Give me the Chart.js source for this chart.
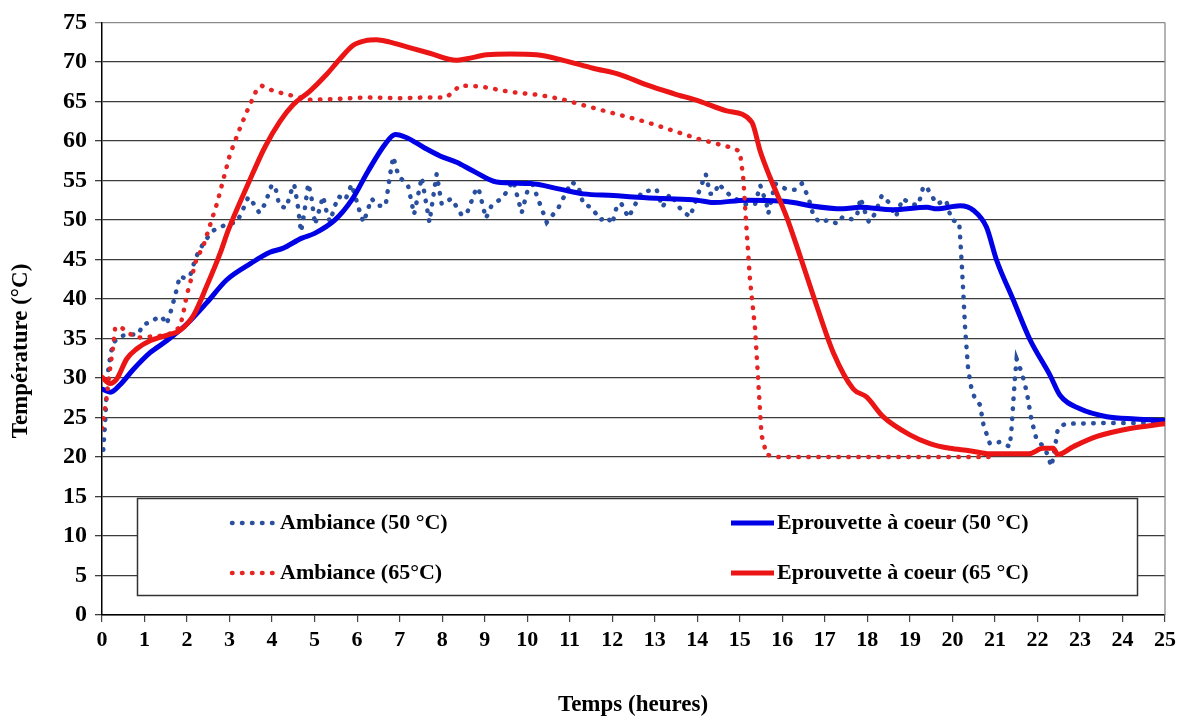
<!DOCTYPE html>
<html>
<head>
<meta charset="utf-8">
<script src="https://cdn.jsdelivr.net/npm/chart.js@4.4.1/dist/chart.umd.min.js"></script>
<style>
  html, body { margin: 0; padding: 0; background: #fff; }
</style>
</head>
<body>
<canvas id="grafico" width="1186" height="720"></canvas>
<script>
// Ambiance (50 °C) : relevés bruités
const heuresAmbiance50 = [0.03, 0.08, 0.12, 0.2, 0.27, 0.44, 0.66, 0.85, 0.97, 1.13, 1.29, 1.4, 1.52, 1.6, 1.72, 1.83, 1.95, 2.07, 2.15, 2.22,
  2.4, 2.6, 2.78, 2.97, 3.17, 3.29, 3.44, 3.56, 3.7, 3.83, 3.99, 4.07, 4.17, 4.33, 4.46, 4.52, 4.6, 4.68, 4.76, 4.85,
  4.92, 5.01, 5.09, 5.2, 5.3, 5.36, 5.48, 5.56, 5.72, 5.87, 6.07, 6.15, 6.34, 6.48, 6.67, 6.77, 6.85, 6.97, 7.2, 7.34,
  7.52, 7.7, 7.87, 7.99, 8.22, 8.46, 8.58, 8.81, 8.87, 9.03, 9.16, 9.44, 9.67, 9.87, 10.08, 10.46, 10.73, 11.04, 11.2, 11.32,
  11.51, 11.72, 11.88, 12.0, 12.12, 12.22, 12.38, 12.69, 13.04, 13.18, 13.36, 13.63, 13.83, 14.06, 14.2, 14.3, 14.42, 14.49, 14.77, 15.12,
  15.36, 15.48, 15.63, 15.67, 15.77, 15.83, 16.09, 16.3, 16.46, 16.61, 16.73, 16.87, 17.08, 17.3, 17.42, 17.63, 17.75, 17.84, 17.97, 18.04,
  18.18, 18.34, 18.49, 18.67, 18.83, 19.04, 19.2, 19.32, 19.4, 19.63, 19.85, 19.98, 20.16, 20.22, 20.3, 20.37, 20.45, 20.53, 20.65, 20.73,
  20.88, 21.12, 21.35, 21.39, 21.47, 21.51, 21.63, 21.75, 21.86, 21.98, 22.18, 22.33, 22.41, 22.48, 22.65, 23.5, 24.3, 25];
const tempAmbiance50 = [20.9, 24.9, 29.9, 33.0, 34.5, 35.3, 35.5, 35.5, 36.8, 37.0, 37.6, 37.8, 36.8, 38.1, 40.4, 42.9, 42.6, 42.9, 44.3, 45.4,
  47.2, 48.6, 49.1, 49.5, 49.7, 51.0, 52.9, 52.1, 50.9, 52.0, 54.4, 54.3, 51.8, 51.5, 53.8, 54.5, 52.0, 48.5, 51.0, 54.6,
  53.1, 49.4, 50.9, 53.0, 50.6, 49.8, 51.8, 53.0, 52.5, 54.5, 50.9, 49.7, 52.7, 51.8, 51.8, 55.6, 58.0, 55.6, 54.3, 50.7,
  55.4, 49.7, 55.8, 52.0, 52.7, 50.6, 50.8, 54.1, 53.7, 50.2, 51.8, 52.9, 55.0, 50.9, 55.2, 49.7, 51.5, 54.8, 54.3, 52.0,
  51.6, 50.0, 50.4, 49.5, 52.0, 52.0, 50.3, 53.5, 53.9, 51.6, 53.3, 51.2, 50.4, 53.9, 55.8, 53.3, 53.3, 54.6, 53.1, 52.0,
  52.0, 54.4, 52.0, 50.8, 53.2, 54.6, 53.9, 53.8, 54.6, 52.9, 50.6, 49.7, 50.0, 49.5, 50.4, 50.1, 50.4, 52.8, 50.6, 49.7,
  50.8, 53.1, 52.3, 50.4, 52.7, 52.0, 51.9, 54.3, 54.1, 52.0, 52.5, 50.0, 49.7, 44.5, 36.2, 31.1, 28.6, 27.4, 26.6, 24.1,
  21.7, 21.9, 21.3, 23.6, 29.9, 32.4, 30.7, 28.2, 24.7, 22.2, 21.1, 18.8, 21.1, 23.6, 24.2, 24.3, 24.3, 24.4];

// Eprouvette à coeur (50 °C)
const heuresEprouvette50 = [0, 0.2, 0.42, 0.74, 1.13, 1.52, 1.99, 2.46, 2.93, 3.5, 3.95, 4.25, 4.7, 5.0, 5.48, 5.87, 6.26, 6.66, 6.9, 7.17,
  7.56, 7.95, 8.34, 8.73, 9.28, 10.07, 10.77, 11.32, 12.03, 12.5, 13.2, 13.99, 14.38, 15.16, 15.95, 16.26, 16.65, 17.43, 17.83, 18.6,
  19.4, 19.63, 20.18, 20.5, 20.8, 21.04, 21.43, 21.82, 22.3, 22.53, 23.0, 23.63, 24.3, 25];
const tempEprouvette50 = [28.6, 28.2, 29.1, 31.1, 33.2, 34.7, 36.8, 39.5, 42.4, 44.5, 45.9, 46.4, 47.7, 48.3, 50.0, 52.5, 56.2, 59.6, 60.8, 60.4,
  59.2, 58.1, 57.3, 56.2, 54.8, 54.6, 53.9, 53.3, 53.1, 52.9, 52.7, 52.5, 52.2, 52.5, 52.4, 52.2, 51.8, 51.4, 51.6, 51.3,
  51.6, 51.4, 51.8, 51.2, 49.1, 44.9, 39.9, 34.9, 30.3, 27.8, 26.1, 25.1, 24.8, 24.6];

// Ambiance (65 °C)
const heuresAmbiance65 = [0, 0.1, 0.2, 0.26, 0.31, 0.43, 0.62, 0.82, 1.06, 1.53, 1.83, 1.9, 1.99, 2.1, 2.23, 2.37, 2.7, 3.01, 3.25, 3.43,
  3.64, 3.75, 3.95, 4.19, 4.42, 4.9, 5.5, 6.2, 7.0, 7.6, 8.1, 8.42, 8.9, 9.6, 10.3, 10.8, 11.4, 12.1, 12.8, 13.43,
  14.06, 14.77, 15.0, 15.08, 15.16, 15.24, 15.36, 15.51, 15.63, 15.86, 17, 18, 19, 20, 20.85];
const tempAmbiance65 = [23.6, 27.2, 31.6, 33.9, 36.4, 36.5, 35.7, 35.1, 35.2, 35.4, 36.4, 37.9, 40.4, 42.6, 45.2, 46.5, 52.0, 58.3, 61.7, 64.0,
  66.5, 67.0, 66.5, 66.1, 65.8, 65.2, 65.3, 65.5, 65.4, 65.5, 65.5, 67.0, 66.9, 66.2, 65.8, 65.3, 64.4, 63.4, 62.4, 61.3,
  60.2, 59.2, 58.7, 55.4, 48.7, 42.4, 36.2, 22.8, 20.3, 20.0, 20.0, 20.0, 20.0, 20.0, 20.0];

// Eprouvette à coeur (65 °C)
const heuresEprouvette65 = [0, 0.19, 0.35, 0.58, 0.82, 1.13, 1.52, 1.83, 2.15, 2.46, 2.78, 2.97, 3.44, 3.83, 4.19, 4.5, 4.89, 5.28, 5.6, 5.91,
  6.2, 6.45, 6.77, 7.17, 7.71, 8.34, 8.58, 9.05, 9.6, 10.22, 10.85, 11.55, 12.18, 12.81, 13.44, 14.06, 14.69, 15.28, 15.48, 15.71,
  16.1, 16.42, 16.81, 17.2, 17.67, 17.98, 18.37, 19.0, 19.47, 19.94, 20.4, 20.88, 21.8, 22.13, 22.37, 22.48, 22.84, 23.4, 24.18, 25];
const tempEprouvette65 = [30.1, 29.3, 29.9, 32.4, 33.7, 34.7, 35.4, 36.0, 37.9, 41.6, 45.8, 48.7, 54.6, 59.2, 62.5, 64.6, 66.3, 68.4, 70.4, 72.1,
  72.7, 72.8, 72.5, 71.9, 71.1, 70.2, 70.4, 70.9, 71.0, 70.9, 70.2, 69.2, 68.4, 67.1, 66.0, 65.0, 63.8, 62.4, 58.7, 55.4,
  50.4, 45.4, 39.1, 33.2, 28.6, 27.6, 25.1, 22.8, 21.7, 21.1, 20.8, 20.4, 20.4, 21.1, 21.1, 20.3, 21.3, 22.6, 23.6, 24.2];

const etiquettes = ['Ambiance (50 °C)', 'Eprouvette à coeur (50 °C)', 'Ambiance (65°C)', 'Eprouvette à coeur (65 °C)'];

const police = 'Liberation Serif, Times New Roman, serif';

const points = (heures, temps) => heures.map((h, i) => ({ x: h, y: temps[i] }));

const pointille = (label, heures, temps, couleur, ordre) => ({
  label,
  data: points(heures, temps),
  borderColor: couleur,
  borderWidth: 4.5,
  borderDash: [0.5, 9.5],
  borderCapStyle: 'round',
  pointRadius: 0,
  tension: 0,
  order: ordre
});

const continu = (label, heures, temps, couleur, ordre) => ({
  label,
  data: points(heures, temps),
  borderColor: couleur,
  borderWidth: 5,
  borderCapStyle: 'round',
  borderJoinStyle: 'round',
  pointRadius: 0,
  cubicInterpolationMode: 'monotone',
  order: ordre
});

// legende dans la zone du graphique + titres d'axes
const legendeInterne = {
  id: 'legendeInterne',
  beforeDatasetsDraw(chart) {
    const { ctx, chartArea } = chart;
    ctx.save();
    ctx.strokeStyle = '#8a8a8a';
    ctx.lineWidth = 1.3;
    ctx.beginPath();
    ctx.moveTo(chartArea.right, chartArea.top);
    ctx.lineTo(chartArea.right, chartArea.bottom);
    ctx.stroke();
    ctx.restore();
  },
  afterDatasetsDraw(chart) {
    const ctx = chart.ctx;
    ctx.save();
    ctx.fillStyle = '#fff';
    ctx.fillRect(137, 498, 1000, 97);
    ctx.strokeStyle = '#333';
    ctx.lineWidth = 1.5;
    ctx.strokeRect(137.5, 498.5, 1000, 97);

    const colonnes = [230, 729];
    const lignes = [523, 573];
    chart.data.datasets.forEach((ds, i) => {
      const x = colonnes[i % 2];
      const y = lignes[Math.floor(i / 2)];
      const largeur = i % 2 === 0 ? 47 : 45;
      ctx.strokeStyle = ds.borderColor;
      ctx.lineWidth = ds.borderWidth;
      ctx.lineCap = ds.borderDash ? 'round' : 'butt';
      ctx.setLineDash(ds.borderDash || []);
      ctx.beginPath();
      ctx.moveTo(x + 2, y);
      ctx.lineTo(x + largeur, y);
      ctx.stroke();
      ctx.setLineDash([]);
      ctx.fillStyle = '#000';
      ctx.font = 'bold 22px ' + police;
      ctx.textAlign = 'left';
      ctx.textBaseline = 'middle';
      ctx.fillText(ds.label, x + largeur + 3, y);
    });
    ctx.restore();
  },
  afterDraw(chart) {
    const ctx = chart.ctx;
    ctx.save();
    ctx.fillStyle = '#000';
    ctx.font = 'bold 23px ' + police;
    ctx.textAlign = 'center';
    ctx.textBaseline = 'middle';
    ctx.fillText('Temps (heures)', 633, 705);
    ctx.translate(21, 351);
    ctx.rotate(-Math.PI / 2);
    ctx.fillText('Température (°C)', 0, 0);
    ctx.restore();
  }
};

const chart = new Chart(document.getElementById('grafico'), {
  type: 'line',
  data: {
    datasets: [
      pointille(etiquettes[0], heuresAmbiance50, tempAmbiance50, '#2a4f9e', 3),
      continu(etiquettes[1], heuresEprouvette50, tempEprouvette50, '#0000e6', 2),
      pointille(etiquettes[2], heuresAmbiance65, tempAmbiance65, '#e52424', 1),
      continu(etiquettes[3], heuresEprouvette65, tempEprouvette65, '#ec1515', 0)
    ]
  },
  options: {
    responsive: false,
    animation: false,
    layout: { padding: { top: 17, right: 21, left: 0, bottom: 0 } },
    plugins: {
      legend: { display: false },
      tooltip: { enabled: false }
    },
    scales: {
      x: {
        type: 'linear',
        min: 0,
        max: 25,
        afterFit: (scale) => { scale.height = 105; },
        ticks: {
          stepSize: 1,
          autoSkip: false,
          maxRotation: 0,
          padding: 5,
          color: '#000',
          font: { family: police, size: 22, weight: 'bold' }
        },
        grid: { drawOnChartArea: false, drawTicks: true, tickLength: 7, color: '#444', lineWidth: 1.2 },
        border: { color: '#000', width: 1.5 }
      },
      y: {
        min: 0,
        max: 75,
        afterFit: (scale) => { scale.width = 102; },
        ticks: {
          stepSize: 5,
          padding: 8,
          color: '#000',
          font: { family: police, size: 24, weight: 'bold' }
        },
        grid: {
          color: (c) => (c.tick && c.tick.value === 75 ? '#8a8a8a' : '#3c3c3c'),
          lineWidth: 1.3,
          tickLength: 7
        },
        border: { color: '#000', width: 1.5 }
      }
    }
  },
  plugins: [legendeInterne]
});
</script>
</body>
</html>
